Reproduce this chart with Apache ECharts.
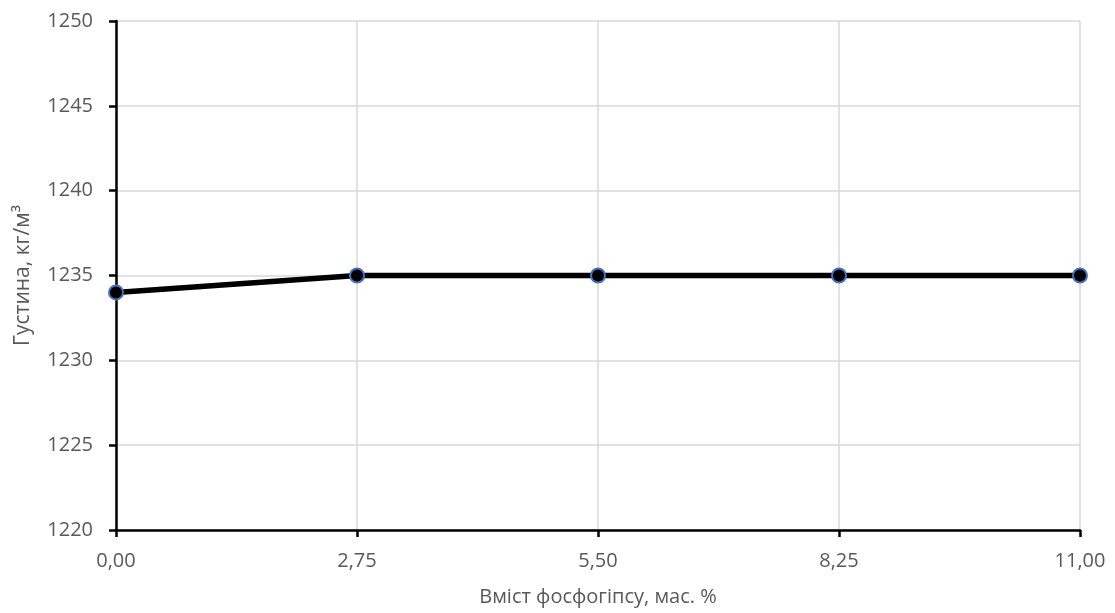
<!DOCTYPE html>
<html><head><meta charset="utf-8">
<script src="https://cdn.jsdelivr.net/npm/echarts@6/dist/echarts.min.js"></script>
<style>html,body{margin:0;padding:0;background:#fff}#c{width:1115px;height:613px}</style>
</head><body><div id="c"></div>
<script>
const xValues = [0, 2.75, 5.5, 8.25, 11];
const density = [1234, 1235, 1235, 1235, 1235];
const xName = 'Вміст фосфогіпсу, мас. %';
const yName = 'Густина, кг/м³';

const chart = echarts.init(document.getElementById('c'));
const font = '"Open Sans", "DejaVu Sans", sans-serif';
chart.setOption({
  animation: false,
  grid: {left: 116, right: 35, top: 21, bottom: 83},
  xAxis: {
    type: 'value', min: 0, max: 11, interval: 2.75,
    name: xName, nameLocation: 'middle', nameGap: 57,
    nameTextStyle: {color: '#595959', fontSize: 20, fontFamily: font},
    axisLine: {lineStyle: {color: '#000', width: 2.5}},
    axisTick: {show: true, length: 7, lineStyle: {color: '#000', width: 2.5}},
    axisLabel: {color: '#595959', fontSize: 20, fontFamily: font, margin: 21,
      formatter: v => v.toFixed(2).replace('.', ',')},
    splitLine: {show: true, lineStyle: {color: '#d9d9d9', width: 1.5}}
  },
  yAxis: {
    type: 'value', min: 1220, max: 1250, interval: 5,
    name: yName, nameLocation: 'middle', nameGap: 82,
    nameTextStyle: {color: '#595959', fontSize: 21, fontFamily: font},
    axisLine: {show: true, lineStyle: {color: '#000', width: 2.5}},
    axisTick: {show: true, length: 7, lineStyle: {color: '#000', width: 2.5}},
    axisLabel: {color: '#595959', fontSize: 20, fontFamily: font, margin: 23,
      formatter: v => String(v)},
    splitLine: {show: true, lineStyle: {color: '#d9d9d9', width: 1.5}}
  },
  series: [{
    type: 'line',
    data: xValues.map((x, i) => [x, density[i]]),
    lineStyle: {color: '#000', width: 5.5},
    symbol: 'circle', symbolSize: 14,
    itemStyle: {color: '#000', borderColor: '#4472C4', borderWidth: 2}
  }]
});
</script></body></html>
